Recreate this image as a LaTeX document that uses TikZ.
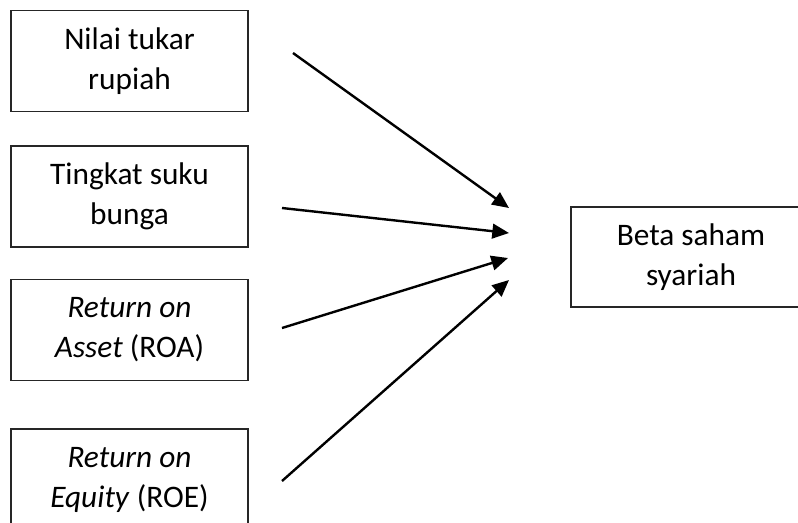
\documentclass[tikz,border=0pt]{standalone}
\usepackage{fontspec}
\setmainfont{Carlito}
\usetikzlibrary{arrows.meta}

\begin{document}
\begin{tikzpicture}[
  x=0.75pt, y=-0.75pt,
  box/.style={draw=black!85, line width=0.9pt, inner sep=0pt,
    minimum width=177.75pt, minimum height=75.75pt, align=center,
    font={\fontsize{23.5}{30}\selectfont}},
  link/.style={-{Triangle[length=12.5pt,width=11pt]}, line width=1.8pt},
  ]
  % Page, the last boxes run off the edge
  \useasboundingbox (0,0) rectangle (798,522);
  \clip (0,0) rectangle (798,522);
  % Factors
  \node[box] (kurs) at (129.5,60.75) {Nilai tukar\\rupiah};
  \node[box] (bunga) at (129.5,196.5) {Tingkat suku\\bunga};
  \node[box] (roa) at (129.5,330) {\textit{Return on}\\\textit{Asset} (ROA)};
  \node[box] (roe) at (129.5,479.5) {\textit{Return on}\\\textit{Equity} (ROE)};
  % Result
  \node[box, minimum width=180pt, minimum height=75pt] (beta) at (691,257)
    {Beta saham\\syariah};
  % Arrow ends
  \coordinate (kurs-s) at (293,53);   \coordinate (kurs-t) at (509,208);
  \coordinate (bunga-s) at (282,208); \coordinate (bunga-t) at (509,233);
  \coordinate (roa-s) at (282,328);   \coordinate (roa-t) at (508,258);
  \coordinate (roe-s) at (282,481);   \coordinate (roe-t) at (509,280);
  % Arrows
  \draw[link] (kurs-s) -- (kurs-t);
  \draw[link] (bunga-s) -- (bunga-t);
  \draw[link] (roa-s) -- (roa-t);
  \draw[link] (roe-s) -- (roe-t);
\end{tikzpicture}
\end{document}
